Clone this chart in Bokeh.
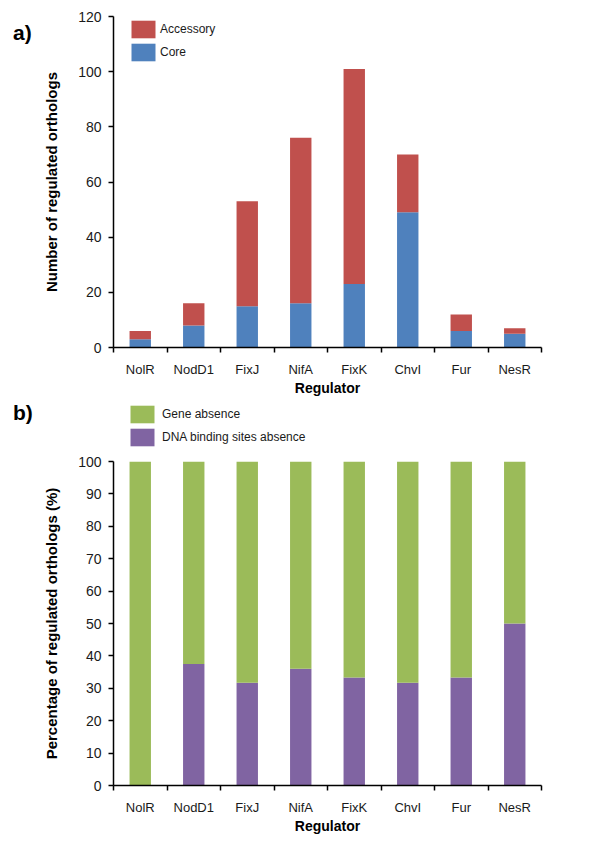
from bokeh.plotting import figure
from bokeh.models import (FixedTicker, Range1d, Legend, LegendItem, Div,
                          ColumnDataSource)
from bokeh.layouts import column, row
from bokeh.embed import file_html
from bokeh.resources import INLINE

# ---------------- data ----------------
categories = ["NolR", "NodD1", "FixJ", "NifA", "FixK", "ChvI", "Fur", "NesR"]

# panel a: number of regulated orthologs
core = [3, 8, 15, 16, 23, 49, 6, 5]
accessory = [3, 8, 38, 60, 78, 21, 6, 2]

# panel b: percentage of regulated orthologs (%)
dbs_absence = [0, 37.5, 31.7, 36, 33.3, 31.7, 33.3, 50]
gene_absence = [100, 62.5, 68.3, 64, 66.7, 68.3, 66.7, 50]

a_ticks = [0, 20, 40, 60, 80, 100, 120]
b_ticks = [0, 10, 20, 30, 40, 50, 60, 70, 80, 90, 100]

RED = "#C0504D"
BLUE = "#4F81BD"
GREEN = "#9BBB59"
PURPLE = "#8064A2"
FONT = "Liberation Sans"
TXT = "#1a1a1a"

xc = [i + 0.5 for i in range(len(categories))]
boundaries = list(range(len(categories) + 1))
overrides = {x: c for x, c in zip(xc, categories)}

DIV_W = 40
W = 588


def style(p, yticks, ylabel):
    p.xgrid.visible = False
    p.ygrid.visible = False
    p.outline_line_color = None
    # x axis
    xa = p.xaxis[0]
    xa.ticker = FixedTicker(ticks=xc, minor_ticks=boundaries)
    xa.major_label_overrides = overrides
    xa.major_tick_out = 0
    xa.major_tick_in = 0
    xa.minor_tick_out = 5
    xa.minor_tick_in = 0
    xa.minor_tick_line_color = "#000000"
    xa.minor_tick_line_width = 1.5
    xa.axis_line_width = 1.5
    xa.axis_line_color = "#000000"
    xa.major_label_text_font = FONT
    xa.major_label_text_font_size = "13px"
    xa.major_label_text_color = TXT
    xa.major_label_standoff = 9
    xa.axis_label = "Regulator"
    xa.axis_label_text_font = FONT
    xa.axis_label_text_font_style = "bold"
    xa.axis_label_text_font_size = "14px"
    xa.axis_label_text_color = "#000000"
    xa.axis_label_standoff = 0
    # y axis
    ya = p.yaxis[0]
    ya.ticker = FixedTicker(ticks=yticks)
    ya.minor_tick_line_color = None
    ya.major_tick_out = 5
    ya.major_tick_in = 0
    ya.major_tick_line_width = 1.5
    ya.major_tick_line_color = "#000000"
    ya.axis_line_width = 1.5
    ya.axis_line_color = "#000000"
    ya.major_label_text_font = FONT
    ya.major_label_text_font_size = "14px"
    ya.major_label_text_color = TXT
    ya.major_label_standoff = 7
    ya.axis_label = ylabel
    ya.axis_label_text_font = FONT
    ya.axis_label_text_font_style = "bold"
    ya.axis_label_text_font_size = "15px"
    ya.axis_label_text_color = "#000000"
    ya.axis_label_standoff = 15


def make_legend(items, loc, standoff):
    return Legend(items=items, location=loc, orientation="vertical",
                  glyph_width=30, glyph_height=22, label_height=22,
                  spacing=1, padding=0, margin=0, label_standoff=standoff,
                  label_text_font=FONT, label_text_font_size="12px",
                  label_text_color=TXT, background_fill_alpha=0,
                  border_line_color=None)


def panel_tag(text, pad_top, height):
    return Div(text=text, width=DIV_W, height=height, margin=0,
               styles={"font-family": FONT, "font-weight": "bold",
                       "font-size": "21px", "color": "#000000",
                       "padding-left": "13px", "padding-top": f"{pad_top}px",
                       "line-height": "24px"})


# ---------------- panel a ----------------
H_A = 399
src_a = ColumnDataSource(dict(x=xc, core=core, accessory=accessory))
pa = figure(width=W - DIV_W, height=H_A, output_backend="svg",
            toolbar_location=None,
            x_range=Range1d(0, len(categories)), y_range=Range1d(0, 120),
            min_border_left=113 - DIV_W, min_border_right=47,
            min_border_top=16, min_border_bottom=H_A - 347)
ra = pa.vbar_stack(["core", "accessory"], x="x", width=0.4, source=src_a,
                   color=[BLUE, RED], line_color=None)
style(pa, a_ticks, "Number of regulated orthologs")
pa.add_layout(make_legend([LegendItem(label="Accessory", renderers=[ra[1]]),
                           LegendItem(label="Core", renderers=[ra[0]])],
                          (15, 284), 2))

# ---------------- panel b data source ----------------
src_b = ColumnDataSource(dict(x=xc, dbs=dbs_absence, gene=gene_absence))

# ---------------- legend strip for panel b ----------------
# legend-only renderers: zero-width bars, so only the legend swatches show
H_L = 52
pl = figure(width=W - DIV_W, height=H_L, output_backend="svg",
            toolbar_location=None, x_axis_location=None, y_axis_location=None,
            x_range=Range1d(0, len(categories)), y_range=Range1d(0, 100),
            min_border_left=113 - DIV_W, min_border_right=47,
            min_border_top=0, min_border_bottom=0)
pl.xgrid.visible = False
pl.ygrid.visible = False
pl.outline_line_color = None
lg_gene = pl.vbar(x="x", top="gene", width=0, source=src_b, color=GREEN,
                  line_color=None)
lg_dbs = pl.vbar(x="x", top="dbs", width=0, source=src_b, color=PURPLE,
                 line_color=None)
pl.add_layout(make_legend([LegendItem(label="Gene absence", renderers=[lg_gene]),
                           LegendItem(label="DNA binding sites absence",
                                      renderers=[lg_dbs])],
                          (14, 3), 5))

# ---------------- panel b ----------------
H_B = 849 - H_A - H_L
pb = figure(width=W, height=H_B, output_backend="svg", toolbar_location=None,
            x_range=Range1d(0, len(categories)), y_range=Range1d(0, 100),
            min_border_left=113, min_border_right=47,
            min_border_top=461 - (H_A + H_L), min_border_bottom=849 - 785)
rb = pb.vbar_stack(["dbs", "gene"], x="x", width=0.4, source=src_b,
                   color=[PURPLE, GREEN], line_color=None)
style(pb, b_ticks, "Percentage of regulated orthologs (%)")

tag_a = panel_tag("a)", 21, H_A)
tag_b = panel_tag("b)", 2, H_L)

layout = column(row(tag_a, pa, spacing=0), row(tag_b, pl, spacing=0), pb,
                spacing=0)
open("out.html", "w").write(file_html(layout, INLINE))
